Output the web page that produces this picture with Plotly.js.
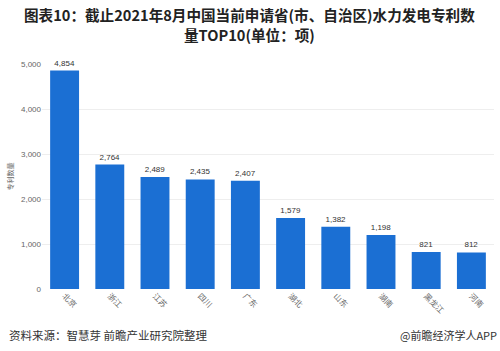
<!DOCTYPE html>
<html><head><meta charset="utf-8">
<script src="https://cdn.plot.ly/plotly-3.0.1.min.js"></script>
<style>body{margin:0;background:#fff}#c{width:500px;height:351px}</style>
</head><body><div id="c"></div>
<script>
const categories = ["北京","浙江","江苏","四川","广东","湖北","山东","湖南","黑龙江","河南"];
const values = [4854,2764,2489,2435,2407,1579,1382,1198,821,812];
const yTicks = [0,1000,2000,3000,4000,5000];
const yTickText = ["0","1,000","2,000","3,000","4,000","5,000"];
const titleLines = ['图表10：截止2021年8月中国当前申请省(市、自治区)水力发电专利数','量TOP10(单位：项)'];
const F = '"Noto Sans CJK SC", "Noto Sans", sans-serif';
Plotly.newPlot('c', [{
  type:'bar', x:categories, y:values,
  marker:{color:'#1b6fd3'},
  text: values.map(v=>v.toLocaleString('en-US')),
  textposition:'outside', cliponaxis:false,
  textfont:{size:8, color:'#333', family:'Arial, sans-serif'},
  hoverinfo:'none'
}], {
  width:500, height:351,
  margin:{l:42, r:6, t:64, b:62},
  bargap:0.36,
  paper_bgcolor:'#fff', plot_bgcolor:'#fff',
  showlegend:false,
  xaxis:{tickangle:45, tickfont:{size:8, color:'#666', family:F}, showline:false, ticks:'', fixedrange:true},
  yaxis:{range:[0,5000], tickvals:yTicks, ticktext:yTickText, tickfont:{size:8, color:'#666', family:'Arial, sans-serif'},
    gridcolor:'#eeeeee', zeroline:false, showline:false, ticks:'',
    title:{text:'专利数量', font:{size:7, color:'#666', family:F}, standoff:6}},
  annotations:[
    {text:'<b>'+titleLines[0]+'</b>', xref:'paper', yref:'paper', x:0.46, y:1.22, xanchor:'center', yanchor:'middle', showarrow:false, font:{size:14.6, color:'#222', family:F}},
    {text:'<b>'+titleLines[1]+'</b>', xref:'paper', yref:'paper', x:0.46, y:1.133, xanchor:'center', yanchor:'middle', showarrow:false, font:{size:14.6, color:'#222', family:F}},
    {text:'资料来源：智慧芽 前瞻产业研究院整理', xref:'paper', yref:'paper', x:-0.077, y:-0.205, xanchor:'left', yanchor:'middle', showarrow:false, font:{size:11.5, color:'#333', family:F}},
    {text:'@前瞻经济学人APP', xref:'paper', yref:'paper', x:1.01, y:-0.205, xanchor:'right', yanchor:'middle', showarrow:false, font:{size:11, color:'#333', family:F}}
  ]
}, {staticPlot:true});
</script></body></html>
